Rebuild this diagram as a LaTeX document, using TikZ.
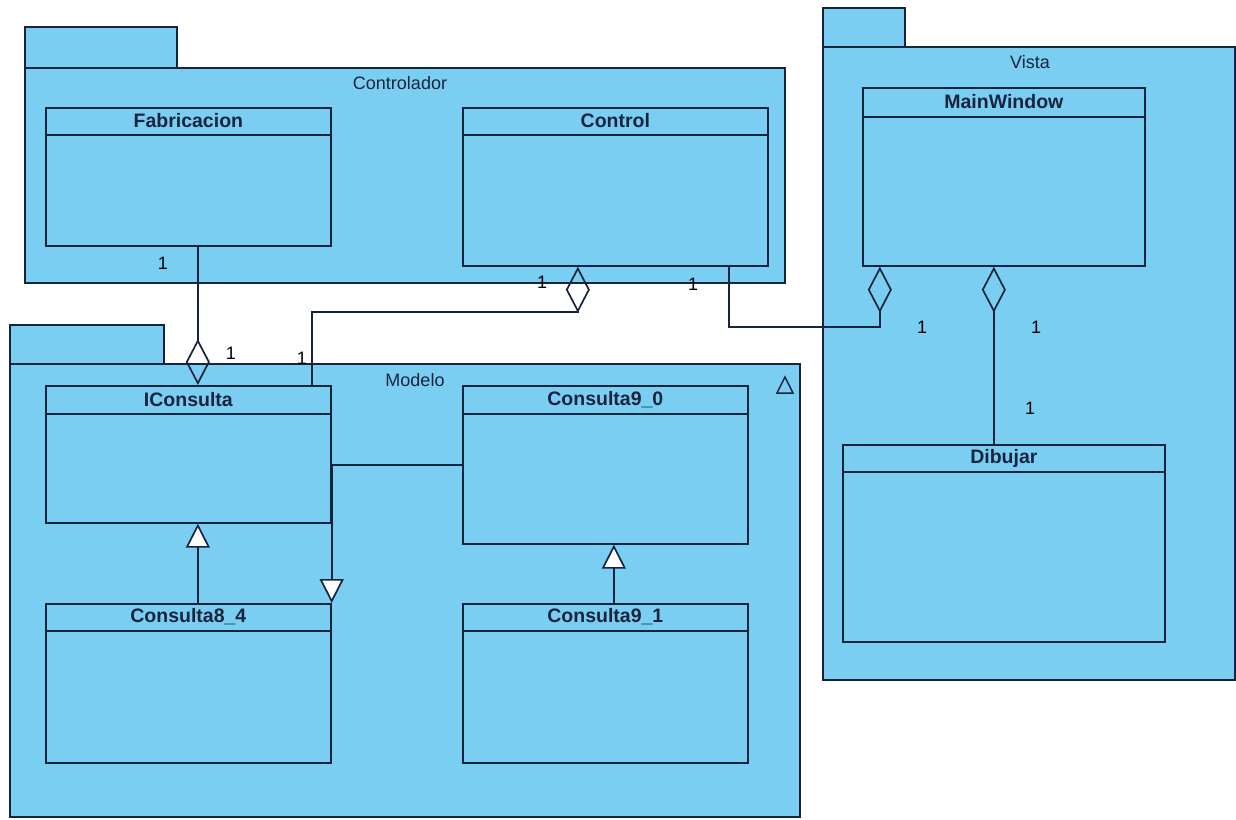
\documentclass[tikz,border=0pt]{standalone}
\usepackage{fontspec}
\setmainfont{Liberation Sans}
\usetikzlibrary{arrows.meta}

\definecolor{pkgblue}{RGB}{122,206,242}
\definecolor{umlline}{RGB}{24,36,62}

\begin{document}
\begin{tikzpicture}[x=1pt, y=-1pt, line width=1.7pt, color=umlline,
  pkg/.style={draw=umlline, fill=pkgblue},
  cls/.style={draw=umlline, fill=pkgblue, anchor=north west, inner sep=0pt},
  clsname/.style={font=\fontsize{19.5}{22}\selectfont\bfseries, text=umlline},
  pkgname/.style={font=\fontsize{18}{21}\selectfont, text=umlline},
  mult/.style={font=\fontsize{18}{21}\selectfont, text=black},
  agg/.style={-{Diamond[open, length=46pt, width=24pt]}},
  gen/.style={-{Triangle[fill=white, length=24pt, width=24pt]}}]
  \fill[white] (0,0) rectangle (1236,819);
  \useasboundingbox (0,0) rectangle (1236,819);

  % packages
  \draw[pkg] (823,8) rectangle (905,47);
  \draw[pkg] (823,47) rectangle (1235,680);
  \node[pkgname] at (1030,62) {Vista};
  \draw[pkg] (25,27) rectangle (177,68);
  \draw[pkg] (25,68) rectangle (785,283);
  \node[pkgname] at (400,83) {Controlador};
  \draw[pkg] (10,325) rectangle (164,364);
  \draw[pkg] (10,364) rectangle (800,817);
  \node[pkgname] at (415,380) {Modelo};
  \draw[line width=1.5pt] (777,393) -- (793,393) -- (785,377) -- cycle;

  % classes
  \foreach \id/\name/\x/\y/\w/\h/\hd in {
      fab/Fabricacion/45/107/285/138/28,
      ctrl/Control/462/107/305/158/28,
      mw/MainWindow/862/87/282/178/30,
      icons/IConsulta/45/385/285/137/29,
      c90/Consulta9\_0/462/385/285/158/29,
      c84/Consulta8\_4/45/603/285/159/28,
      c91/Consulta9\_1/462/603/285/159/28,
      dib/Dibujar/842/444/322/197/28} {
    \node[cls, minimum width=\w pt, minimum height=\h pt] (\id) at (\x,\y) {};
    \draw ([yshift=-\hd pt]\id.north west) -- ([yshift=-\hd pt]\id.north east);
    \node[clsname] at ([yshift={-0.5*\hd pt}]\id.north) {\name};
  }

  % aggregations
  \draw[agg] ([xshift=9.5pt]fab.south) -- ([xshift=9.5pt]icons.north);
  \draw[agg] ([xshift=123.5pt]icons.north) |- ([xshift=-37.5pt, yshift=-45pt]ctrl.south)
    -- ([xshift=-37.5pt]ctrl.south);
  \draw[agg] ([xshift=113.5pt]ctrl.south) |- ([xshift=-124pt, yshift=-60pt]mw.south)
    -- ([xshift=-124pt]mw.south);
  \draw[agg] ([xshift=-10pt]dib.north) -- ([xshift=-10pt]mw.south);

  % association and generalizations
  \draw (icons.east |- c90.west) -- (c90.west);
  \draw[gen] (icons.east |- c90.west) -- (c84.north east);
  \draw[gen] ([xshift=9.5pt]c84.north) -- ([xshift=9.5pt]icons.south);
  \draw[gen] ([xshift=8.5pt]c91.north) -- ([xshift=8.5pt]c90.south);

  % multiplicities
  \node[mult] at (163,263) {1};
  \node[mult] at (231,353) {1};
  \node[mult] at (542,282) {1};
  \node[mult] at (302,358) {1};
  \node[mult] at (693,284) {1};
  \node[mult] at (922,327) {1};
  \node[mult] at (1036,327) {1};
  \node[mult] at (1030,408) {1};
\end{tikzpicture}
\end{document}
